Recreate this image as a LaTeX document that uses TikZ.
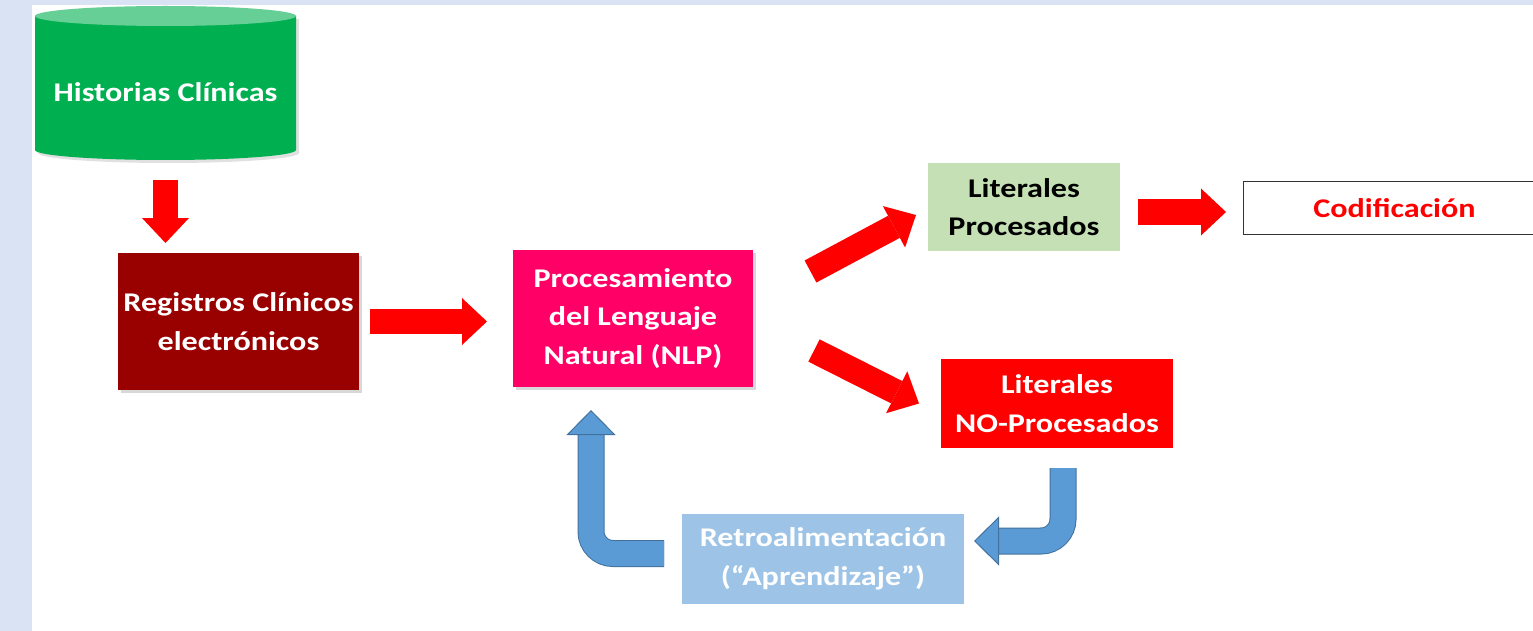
\documentclass[tikz,border=0pt]{standalone}
\usepackage{fontspec}
\setmainfont{Carlito}[FakeStretch=1.19]
\usepackage{tikz}
\usetikzlibrary{arrows.meta,positioning,shadows,backgrounds}

\definecolor{fondo}{HTML}{DAE3F3}
\definecolor{verdeHC}{HTML}{00B050}
\definecolor{verdeTapa}{HTML}{66CF96}
\definecolor{granate}{HTML}{990000}
\definecolor{fucsia}{HTML}{FF0066}
\definecolor{verdeLP}{HTML}{C5E0B4}
\definecolor{rojo}{HTML}{FF0000}
\definecolor{azulRet}{HTML}{9DC3E6}
\definecolor{azul}{HTML}{5B9BD5}
\definecolor{azulBorde}{HTML}{41719C}

\begin{document}
\begin{tikzpicture}[x=1pt,y=1pt,inner sep=0pt,outer sep=0pt,
                    font=\fontsize{27}{38.5}\selectfont\bfseries]

  \tikzstyle{caja}=[rectangle,align=center,text=white]
  \tikzstyle{sombra}=[drop shadow={shadow xshift=3pt,shadow yshift=-3pt,opacity=0.3}]
  \tikzstyle{flecha}=[draw=rojo,line width=25pt,
                      -{Triangle[length=25pt,width=47pt,line width=0pt,fill=rojo,color=rojo]}]
  \tikzstyle{vuelta}=[draw=azul,line width=25pt,rounded corners=22pt,
                      preaction={draw=azulBorde,line width=27pt,arrows=-,shorten >=24pt},
                      -{Triangle[length=25pt,width=49pt,line width=1pt,fill=azul,color=azulBorde]}]

  \useasboundingbox (0,0) rectangle (1533,-631);

  \node[caja,minimum width=261pt,minimum height=136pt]   (HC)  at (165.5,-92)                  {Historias Clínicas};
  \node[caja,sombra,fill=granate,minimum width=241pt,minimum height=137pt]
                                                          (RCE) [below=93pt of HC,xshift=73pt]  {Registros Clínicos\\electrónicos};
  \node[caja,sombra,fill=fucsia,minimum width=240pt,minimum height=137pt]
                                                          (NLP) [right=154pt of RCE,yshift=3pt] {Procesamiento\\del Lenguaje\\Natural (NLP)};
  \node[caja,fill=verdeLP,text=black,minimum width=192pt,minimum height=88pt]
                                                          (LP)  [above right=-1pt and 175pt of NLP] {Literales\\Procesados};
  \node[caja,fill=rojo,minimum width=232pt,minimum height=89pt]
                                                          (LNP) [below right=-28pt and 188pt of NLP] {Literales\\NO-Procesados};
  \node[caja,fill=white,draw=black!80,line width=1pt,text=rojo,minimum width=303pt,minimum height=52pt]
                                                          (COD) [right=123pt of LP,yshift=-1pt] {Codificación};
  \node[caja,fill=azulRet,minimum width=282pt,minimum height=90pt]
                                                          (RET) [below right=127pt and -71pt of NLP] {Retroalimentación\\(“Aprendizaje”)};

  \begin{scope}[on background layer]
    \fill[fondo] (0,0) rectangle (1533,-631);
    \fill[white] (32,-5) rectangle (1533,-631);
    \fill[black,opacity=0.12] ([xshift=3pt,yshift=5pt]HC.north west) -- ([xshift=3pt,yshift=7pt]HC.south west)
      arc[start angle=180,end angle=360,x radius=130.5pt,y radius=10pt] -- ([xshift=3pt,yshift=5pt]HC.north east) -- cycle;
    \fill[verdeHC] ([yshift=8pt]HC.north west) -- ([yshift=10pt]HC.south west)
      arc[start angle=180,end angle=360,x radius=130.5pt,y radius=10pt] -- ([yshift=8pt]HC.north east) -- cycle;
    \fill[verdeTapa] ([yshift=8pt]HC.north) ellipse [x radius=130.5pt,y radius=10pt];
  \end{scope}

  \path
  (HC.south)                                 edge [flecha,shorten <=20pt,shorten >=10pt] (HC.south |- RCE.north)
  (RCE.east)                                 edge [flecha,shorten <=11pt,shorten >=26pt] (RCE.east -| NLP.west)
  ([xshift=57.5pt,yshift=-21.5pt]NLP.north east) edge [flecha]                        ([xshift=-12pt,yshift=-8pt]LP.west)
  ([xshift=61pt,yshift=-32pt]NLP.east)       edge [flecha]                               ([xshift=-22pt]LNP.west)
  ([xshift=18pt,yshift=-5pt]LP.east)         edge [flecha]                               ([xshift=-17pt,yshift=-5pt]LP.east -| COD.west)
  ([xshift=6pt,yshift=-20pt]LNP.south)       edge [vuelta,to path={|- (\tikztotarget)}]  ([xshift=10pt,yshift=18pt]RET.east)
  ([xshift=-18pt,yshift=5.5pt]RET.west)      edge [vuelta,to path={-| (\tikztotarget)}]  ([xshift=-42pt,yshift=-23pt]NLP.south)
  ;
\end{tikzpicture}
\end{document}
